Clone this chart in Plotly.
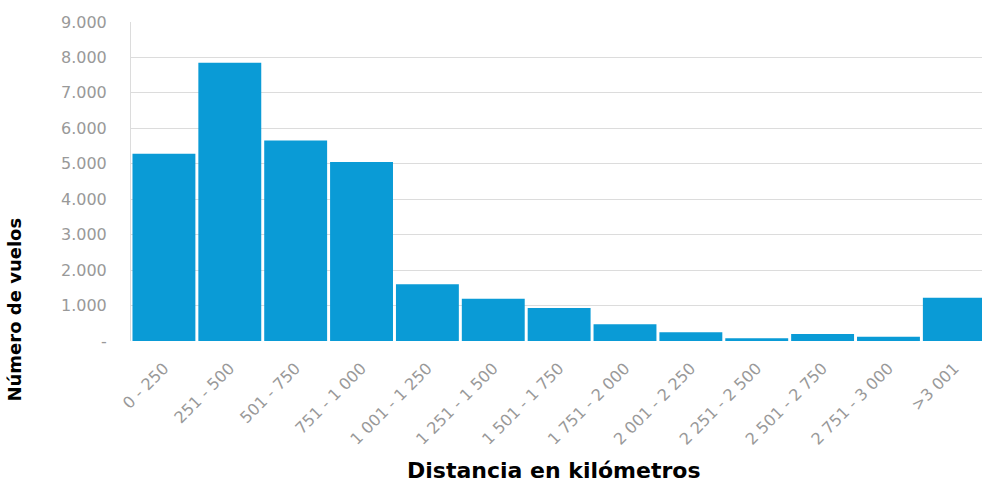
import plotly.graph_objects as go

# Flight distance bands (km) and number of flights in each band
categories = [
    "0 - 250", "251 - 500", "501 - 750", "751 - 1 000", "1 001 - 1 250",
    "1 251 - 1 500", "1 501 - 1 750", "1 751 - 2 000", "2 001 - 2 250",
    "2 251 - 2 500", "2 501 - 2 750", "2 751 - 3 000", ">3 001",
]
flights = [5280, 7850, 5660, 5050, 1600, 1190, 930, 470, 250, 80, 200, 120, 1220]

y_tick_values = [0, 1000, 2000, 3000, 4000, 5000, 6000, 7000, 8000, 9000]
y_tick_labels = ["-", "1.000", "2.000", "3.000", "4.000", "5.000",
                 "6.000", "7.000", "8.000", "9.000"]

BAR_COLOR = "#0a9bd6"
GRID_COLOR = "#dcdcdc"
TICK_FONT = dict(family="DejaVu Sans, sans-serif", size=16, color="#999999")
X_TITLE_FONT = dict(family="DejaVu Sans, sans-serif", size=22, color="#000000")
Y_TITLE_FONT = dict(family="DejaVu Sans, sans-serif", size=18, color="#000000")

fig = go.Figure(
    go.Bar(
        x=categories,
        y=flights,
        marker=dict(color=BAR_COLOR, line=dict(width=0)),
    )
)

fig.update_layout(
    width=982,
    height=486,
    margin=dict(l=131, r=0, t=22, b=145),
    paper_bgcolor="white",
    plot_bgcolor="white",
    bargap=0.045,
    showlegend=False,
    xaxis=dict(
        type="category",
        range=[-0.5, 12.42],
        tickangle=-45,
        tickfont=TICK_FONT,
        showgrid=False,
        showline=False,
        ticks="",
        ticklabelstandoff=14,
    ),
    yaxis=dict(
        range=[0, 9000],
        tickvals=y_tick_values,
        ticktext=y_tick_labels,
        tickfont=TICK_FONT,
        showgrid=True,
        gridcolor=GRID_COLOR,
        gridwidth=1,
        zeroline=False,
        showline=True,
        linecolor=GRID_COLOR,
        ticks="",
        ticklabelstandoff=20,
    ),
    annotations=[
        dict(
            text="<b>Distancia en kilómetros</b>",
            xref="paper", yref="paper",
            x=0.497, y=-0.452,
            xanchor="center", yanchor="bottom",
            showarrow=False,
            font=X_TITLE_FONT,
        ),
        dict(
            text="<b>Número de vuelos</b>",
            xref="paper", yref="paper",
            x=-0.137, y=0.1,
            xanchor="center", yanchor="middle",
            textangle=-90,
            showarrow=False,
            font=Y_TITLE_FONT,
        ),
    ],
)

fig.write_html("out.html")
